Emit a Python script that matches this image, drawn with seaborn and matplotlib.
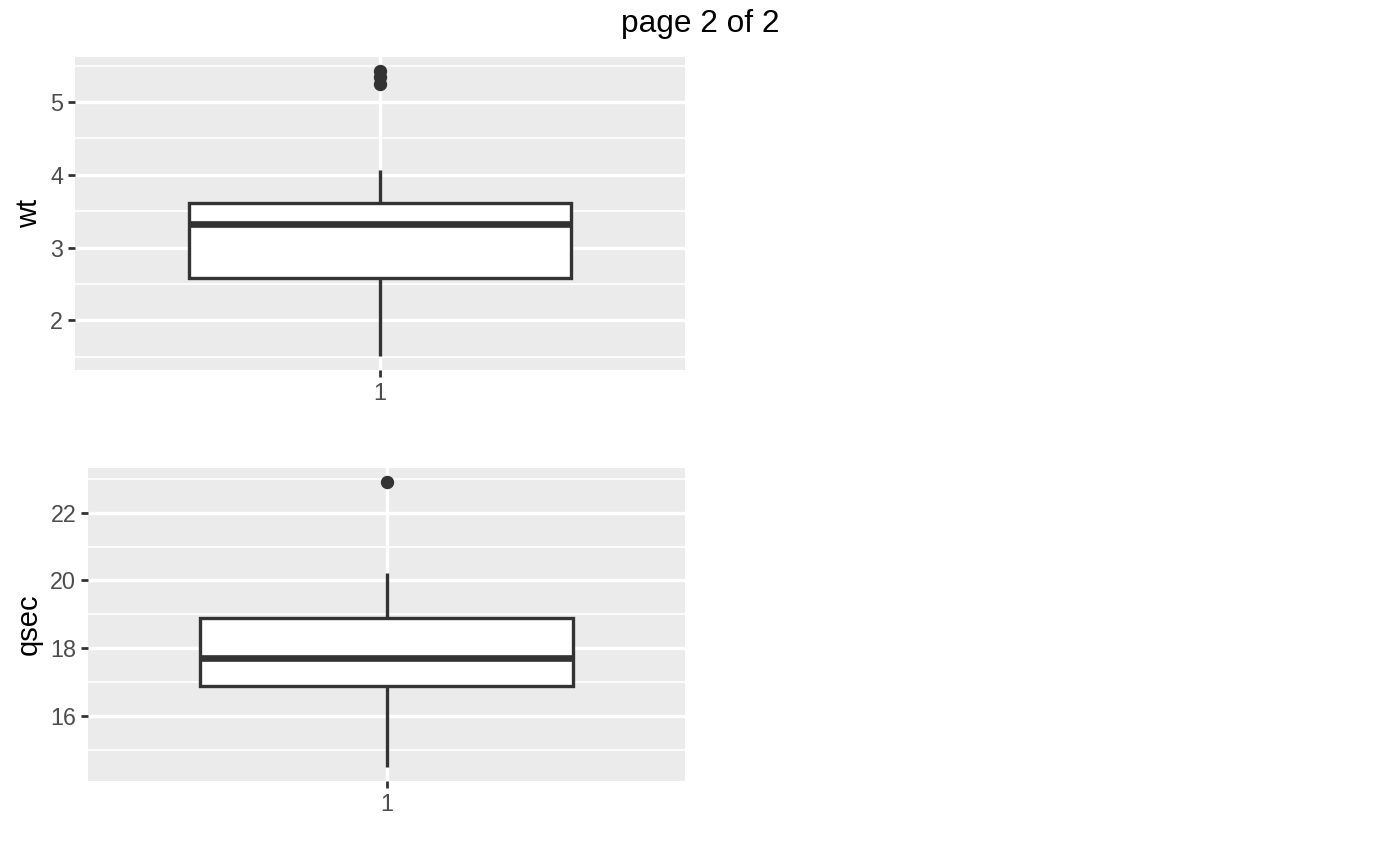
import numpy as np
import pandas as pd
import seaborn as sns
import matplotlib.pyplot as plt

# mtcars columns shown on this page
wt = [2.620, 2.875, 2.320, 3.215, 3.440, 3.460, 3.570, 3.190, 3.150, 3.440, 3.440,
      4.070, 3.730, 3.780, 5.250, 5.424, 5.345, 2.200, 1.615, 1.835, 2.465, 3.520,
      3.435, 3.840, 3.845, 1.935, 2.140, 1.513, 3.170, 2.770, 3.570, 2.780]
qsec = [16.46, 17.02, 18.61, 19.44, 17.02, 20.22, 15.84, 20.00, 22.90, 18.30, 18.90,
        17.40, 17.60, 18.00, 17.98, 17.82, 17.42, 19.47, 18.52, 19.90, 20.01, 16.87,
        17.30, 15.41, 17.05, 18.90, 16.70, 16.90, 14.50, 15.50, 14.60, 18.60]
group_label = "1"
wt_ticks = [2, 3, 4, 5]
qsec_ticks = [16, 18, 20, 22]
page_title = "page 2 of 2"

sns.set_theme(style="darkgrid", rc={
    "axes.facecolor": "#EBEBEB",
    "grid.color": "white",
})
plt.rcParams["font.family"] = ["Liberation Sans", "DejaVu Sans"]

fig = plt.figure(figsize=(14, 8.65), dpi=100)
fig.text(0.5, 1 - 24 / 865, page_title, ha="center", va="center", fontsize=22.8, color="black")

panels = [
    ("wt", wt, wt_ticks, [75, 57, 685, 370]),
    ("qsec", qsec, qsec_ticks, [88, 468, 685, 781]),
]

for name, vals, ticks, (x0, y0, x1, y1) in panels:
    ax = fig.add_axes([x0 / 1400, 1 - y1 / 865, (x1 - x0) / 1400, (y1 - y0) / 865])
    df = pd.DataFrame({"x": group_label, name: vals})
    sns.boxplot(data=df, x="x", y=name, ax=ax, width=0.75, whis=1.5,
                color="white", saturation=1, linecolor="#333333", linewidth=2.4,
                showcaps=False, fliersize=8.6,
                flierprops=dict(marker="o", markerfacecolor="#333333",
                                markeredgecolor="#333333"),
                medianprops=dict(linewidth=4.8, color="#333333"))
    # ggplot style 5% expansion
    lo, hi = min(vals), max(vals)
    pad = (hi - lo) * 0.05
    ax.set_ylim(lo - pad, hi + pad)
    ax.set_xlim(-0.6, 0.6)
    ax.set_yticks(ticks)
    step = ticks[1] - ticks[0]
    minors = [t - step / 2 for t in ticks] + [ticks[-1] + step / 2]
    ax.set_yticks(minors, minor=True)
    ax.grid(which="major", color="white", linewidth=2.4)
    ax.grid(which="minor", axis="y", color="white", linewidth=1.2)
    ax.set_axisbelow(True)
    for s in ax.spines.values():
        s.set_visible(False)
    ax.tick_params(axis="both", which="major", length=5, width=2.0, color="#333333",
                   labelsize=16.8, labelcolor="#4D4D4D", pad=3.5, left=True, bottom=True)
    ax.tick_params(axis="y", which="minor", length=0)
    ax.set_xlabel("")
    ax.set_ylabel(name, fontsize=21, color="black", labelpad=5)

fig.savefig("out.png", dpi=100)
